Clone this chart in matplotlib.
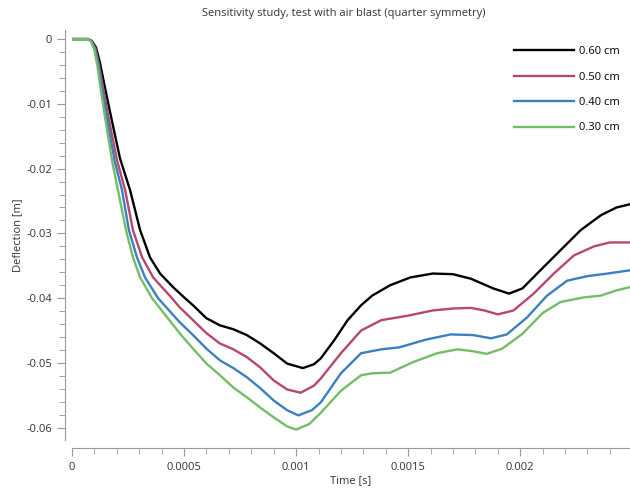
import numpy as np
import matplotlib.pyplot as plt
from matplotlib.ticker import MultipleLocator, FuncFormatter

plt.rcParams['font.family'] = ['Open Sans', 'DejaVu Sans']

# time [s] and deflection [m]
t_black = [0, 0.00007, 0.000089, 0.000107, 0.000125, 0.000143, 0.00017, 0.000214, 0.000259, 0.000304,
           0.000348, 0.000393, 0.000451, 0.000504, 0.00054, 0.0006, 0.00066, 0.00072, 0.00078, 0.00084,
           0.0009, 0.00096, 0.00103, 0.00108, 0.00111, 0.00117, 0.00123, 0.00129, 0.00134, 0.00142,
           0.00151, 0.00161, 0.0017, 0.00178, 0.00182, 0.00188, 0.00195, 0.00201, 0.00209, 0.00218,
           0.00227, 0.00236, 0.00243, 0.00249]
d_black = [0, 0, -0.0003, -0.0013, -0.0037, -0.0068, -0.0113, -0.0184, -0.0233, -0.0295,
           -0.0337, -0.0362, -0.0383, -0.0400, -0.0411, -0.0431, -0.0442, -0.0448, -0.0457, -0.0470,
           -0.0485, -0.0501, -0.0508, -0.0502, -0.0493, -0.0465, -0.0434, -0.0411, -0.0396, -0.0380,
           -0.0368, -0.0362, -0.0363, -0.0370, -0.0376, -0.0385, -0.0393, -0.0385, -0.0357, -0.0326,
           -0.0295, -0.0272, -0.0260, -0.0255]

t_red = [0, 0.00007, 0.000087, 0.000104, 0.00012, 0.000137, 0.00016, 0.0002, 0.000237, 0.000272,
         0.000313, 0.000362, 0.000446, 0.00048, 0.00054, 0.0006, 0.00066, 0.00072, 0.00078, 0.00084,
         0.0009, 0.00096, 0.00102, 0.00108, 0.00111, 0.0012, 0.00129, 0.00138, 0.0015, 0.00161,
         0.0017, 0.00178, 0.00184, 0.0019, 0.00197, 0.00206, 0.00215, 0.00224, 0.00233, 0.0024,
         0.00249]
d_red = [0, 0, -0.0003, -0.0014, -0.0039, -0.0072, -0.0116, -0.0186, -0.0233, -0.0295,
         -0.0337, -0.0368, -0.0400, -0.0414, -0.0434, -0.0454, -0.0470, -0.0479, -0.0491, -0.0507,
         -0.0527, -0.0541, -0.0546, -0.0535, -0.0524, -0.0485, -0.0450, -0.0434, -0.0427, -0.0419,
         -0.0416, -0.0415, -0.0419, -0.0425, -0.0419, -0.0393, -0.0362, -0.0334, -0.0320, -0.0314,
         -0.0314]

t_blue = [0, 0.00007, 0.000086, 0.000102, 0.000117, 0.000133, 0.000155, 0.00019, 0.000223, 0.000254,
          0.00029, 0.000326, 0.000384, 0.00048, 0.00054, 0.0006, 0.00066, 0.00072, 0.00078, 0.00084,
          0.0009, 0.00096, 0.00101, 0.00107, 0.00111, 0.0012, 0.00129, 0.00138, 0.00146, 0.00158,
          0.00169, 0.00179, 0.00187, 0.00194, 0.00203, 0.00212, 0.00221, 0.0023, 0.00239, 0.00249]
d_blue = [0, 0, -0.0003, -0.0015, -0.0040, -0.0074, -0.0120, -0.0188, -0.0233, -0.0295,
          -0.0337, -0.0368, -0.0400, -0.0437, -0.0457, -0.0478, -0.0496, -0.0508, -0.0522, -0.0539,
          -0.0558, -0.0573, -0.0581, -0.0573, -0.0561, -0.0516, -0.0485, -0.0479, -0.0476, -0.0464,
          -0.0456, -0.0457, -0.0462, -0.0456, -0.0430, -0.0396, -0.0373, -0.0366, -0.0362, -0.0357]

t_green = [0, 0.00007, 0.000085, 0.0001, 0.000114, 0.000128, 0.000148, 0.00018, 0.000205, 0.000241,
           0.000272, 0.000304, 0.000357, 0.00048, 0.00054, 0.0006, 0.00066, 0.00072, 0.00078, 0.00084,
           0.0009, 0.00096, 0.001, 0.00106, 0.00111, 0.0012, 0.00129, 0.00134, 0.00142, 0.00152,
           0.00163, 0.00172, 0.00179, 0.00185, 0.00192, 0.00201, 0.0021, 0.00218, 0.00228, 0.00236,
           0.00243, 0.00249]
d_green = [0, 0, -0.0004, -0.0017, -0.0043, -0.0077, -0.0122, -0.0190, -0.0233, -0.0295,
           -0.0337, -0.0368, -0.0400, -0.0454, -0.0478, -0.0501, -0.0519, -0.0538, -0.0553, -0.0569,
           -0.0584, -0.0598, -0.0603, -0.0594, -0.0577, -0.0543, -0.0519, -0.0516, -0.0515, -0.0499,
           -0.0485, -0.0479, -0.0482, -0.0486, -0.0478, -0.0455, -0.0423, -0.0406, -0.0399, -0.0396,
           -0.0388, -0.0383]

labels = ['0.60 cm', '0.50 cm', '0.40 cm', '0.30 cm']
colors = ['#000000', '#b7476b', '#3a80c0', '#72be66']

fig = plt.figure(figsize=(6.3, 4.9), dpi=100)
ax = fig.add_axes([72 / 630, 50 / 490, 558 / 630, 410 / 490])

series = [(t_black, d_black), (t_red, d_red), (t_blue, d_blue), (t_green, d_green)]
for (t, d), lab, c in zip(series, labels, colors):
    ax.plot(t, d, color=c, lw=1.7, label=lab, solid_joinstyle='round')

ax.set_xlim(0, 0.00249)
ax.set_ylim(-0.0619, 0.0014)

for s in ['top', 'right']:
    ax.spines[s].set_visible(False)
ax.spines['left'].set_position(('outward', 5))
ax.spines['bottom'].set_position(('outward', 6))
for s in ['left', 'bottom']:
    ax.spines[s].set_color('#999999')

ax.xaxis.set_major_locator(MultipleLocator(0.0005))
ax.xaxis.set_minor_locator(MultipleLocator(0.0001))
ax.yaxis.set_major_locator(MultipleLocator(0.01))
ax.yaxis.set_minor_locator(MultipleLocator(0.002))

ax.xaxis.set_major_formatter(FuncFormatter(lambda v, p: '0' if abs(v) < 1e-12 else ('%g' % v)))
ax.yaxis.set_major_formatter(FuncFormatter(lambda v, p: '0' if abs(v) < 1e-12 else ('%.2f' % v)))

ax.tick_params(which='major', length=6, color='#999999', labelsize=8, labelcolor='#333333')
ax.tick_params(which='minor', length=4, color='#999999')

ax.set_xlabel('Time [s]', fontsize=8, color='#333333', labelpad=2)
ax.set_ylabel('Deflection [m]', fontsize=8, color='#333333', labelpad=2)
fig.text(0.545, 0.972, 'Sensitivity study, test with air blast (quarter symmetry)',
         ha='center', va='center', fontsize=8, color='#333333')

leg = ax.legend(loc='upper right', frameon=False, fontsize=8, handlelength=5.4,
                handletextpad=0.5, labelspacing=1.3, bbox_to_anchor=(1.0, 0.985))

fig.savefig('out.png', dpi=100)
